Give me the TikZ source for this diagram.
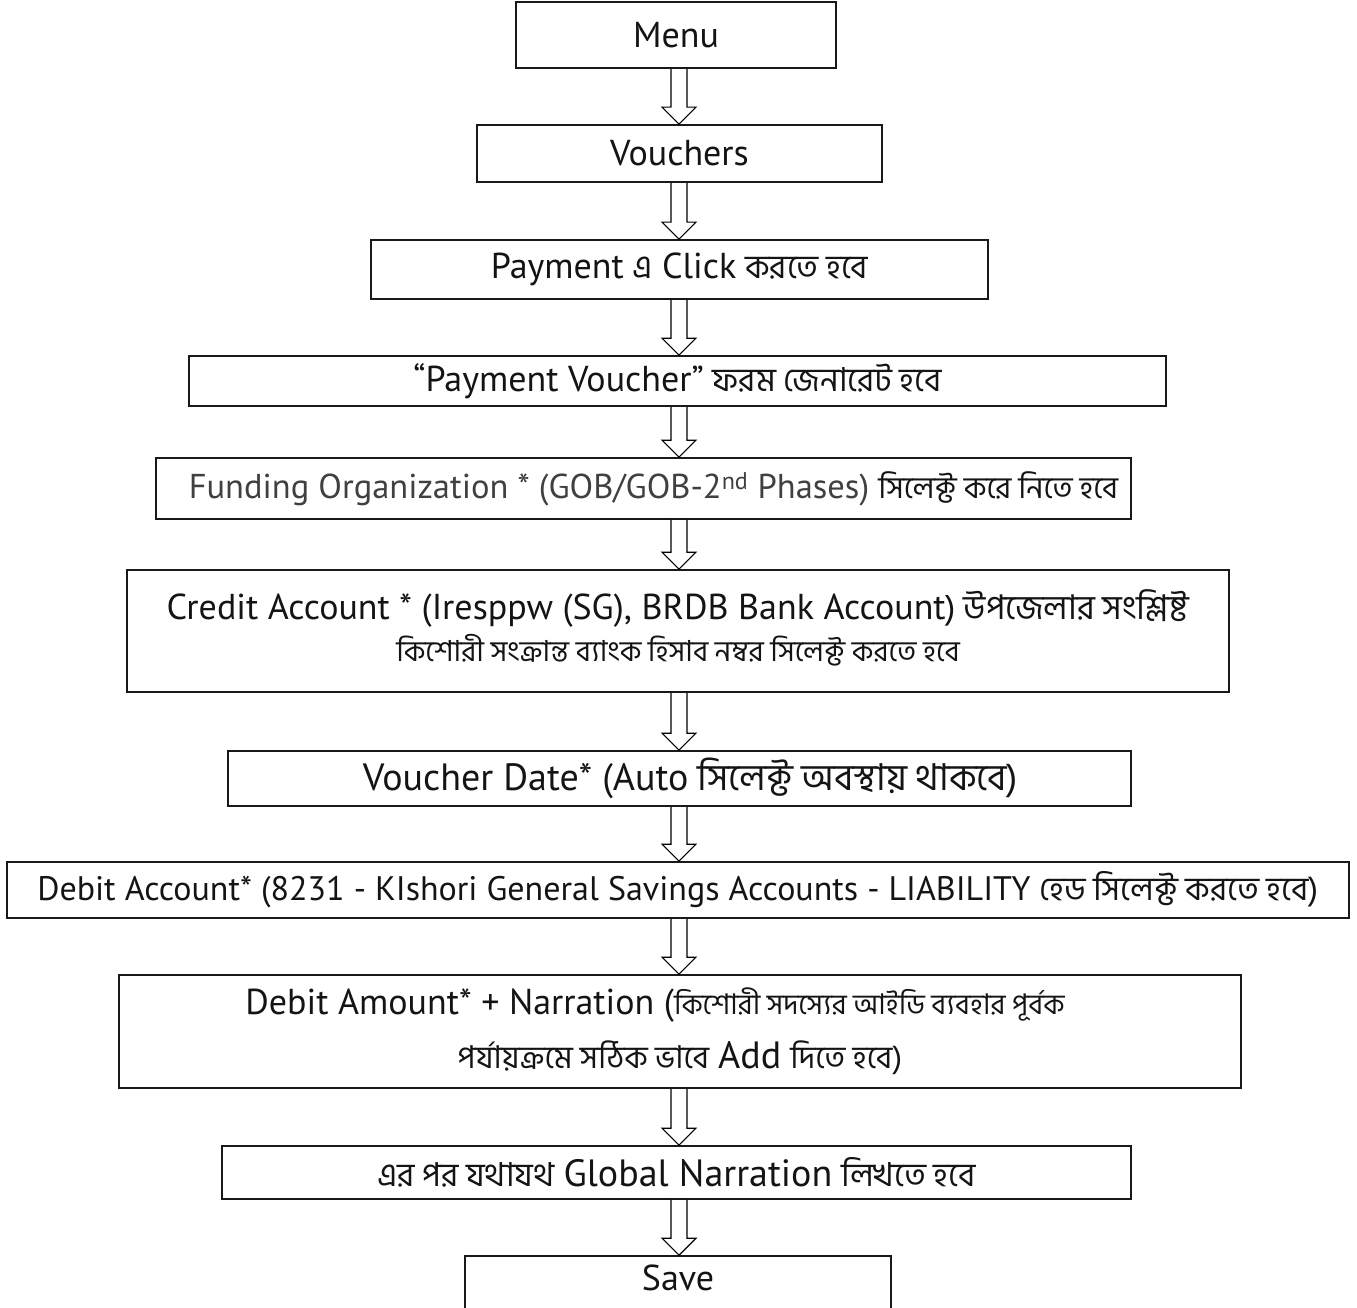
\documentclass[tikz,border=0pt]{standalone}
\usepackage{fontspec}
\usepackage{graphicx}
\setmainfont{PT Sans}
\newfontfamily\bn[Script=Bengali]{Hind Siliguri}
\usetikzlibrary{calc}
\newcommand\lat[2]{{\fontsize{#1}{44}\selectfont #2}}
\newcommand\bng[2]{{\bn\fontsize{#1}{44}\selectfont #2}}
\newcommand\flow[2]{%
  \draw[blockarr] let \p1=(#1.south), \p2=(#2.north) in
    (671pt,\y1) -- (671pt,{\y2+17pt}) -- (662pt,{\y2+17pt}) -- (679pt,\y2)
    -- (696pt,{\y2+17pt}) -- (687pt,{\y2+17pt}) -- (687pt,\y1);}
\begin{document}
\begin{tikzpicture}[x=1pt,y=-1pt,
  box/.style={draw=black!90, line width=1.6pt, rectangle, inner sep=0pt,
    align=center, text=black!92, font=\fontsize{34}{44}\selectfont},
  blockarr/.style={draw=black, line width=1.1pt, line join=miter}]
\path[use as bounding box, clip] (0,0) rectangle (1357,1308);
\node[box, minimum width=320, minimum height=66] (menu) at (676,35) {\lat{36}{Menu}};
\node[box, minimum width=405, minimum height=57] (vouch) at (679.5,153.5) {\lat{36}{Vouchers}};
\node[box, minimum width=617, minimum height=59] (pay) at (679.5,269.5)
  {\lat{36}{Payment} \bng{33}{এ} \lat{36}{Click} \bng{33}{করতে হবে}};
\node[box, minimum width=977, minimum height=50] (pv) at (677.5,381)
  {\lat{36}{“Payment Voucher”} \bng{33}{ফরম জেনারেট হবে}};
\node[box, minimum width=975, minimum height=61] (fund) at (643.5,488.5)
  {\hspace*{20pt}\textcolor{black!75}{\lat{34.5}{Funding Organization * (GOB/GOB-2\textsuperscript{nd} Phases)}} \bng{30.5}{সিলেক্ট করে নিতে হবে}};
\node[box, minimum width=1102, minimum height=122] (cred) at (678,631)
  {\raisebox{11pt}{\lat{36}{Credit Account * (Iresppw (SG), BRDB Bank Account}\bng{34}{) উপজেলার সংশ্লিষ্ট}}\\[-2pt]
   \raisebox{11pt}{\bng{29}{কিশোরী সংক্রান্ত ব্যাংক হিসাব নম্বর সিলেক্ট করতে হবে}}};
\node[box, minimum width=903, minimum height=55] (vdate) at (679.5,778.5)
  {\hspace*{22pt}\lat{38}{Voucher Date* (Auto} \bng{37}{সিলেক্ট অবস্থায় থাকবে)}};
\node[box, minimum width=1342, minimum height=56] (dacc) at (678,890)
  {\lat{34}{Debit Account* (8231 - KIshori General Savings Accounts - LIABILITY} \bng{33}{হেড সিলেক্ট করতে হবে)}};
\node[box, minimum width=1122, minimum height=113] (damt) at (680,1031.5)
  {\lat{36}{Debit Amount* + Narration (}\bng{28.5}{কিশোরী সদস্যের আইডি ব্যবহার পূর্বক}\hspace*{50pt}\\[10pt]
   \bng{31.5}{পর্যায়ক্রমে সঠিক ভাবে} \lat{38}{Add} \bng{31.5}{দিতে হবে)}};
\node[box, minimum width=909, minimum height=53] (glob) at (676.5,1172.5)
  {\bng{33}{এর পর যথাযথ} \lat{38}{Global Narration} \bng{33}{লিখতে হবে}};
\node[box, minimum width=426, minimum height=56] (save) at (678,1284)
  {\raisebox{12pt}{\lat{36}{Save}}};
\flow{menu}{vouch}
\flow{vouch}{pay}
\flow{pay}{pv}
\flow{pv}{fund}
\flow{fund}{cred}
\flow{cred}{vdate}
\flow{vdate}{dacc}
\flow{dacc}{damt}
\flow{damt}{glob}
\flow{glob}{save}
\end{tikzpicture}
\end{document}
